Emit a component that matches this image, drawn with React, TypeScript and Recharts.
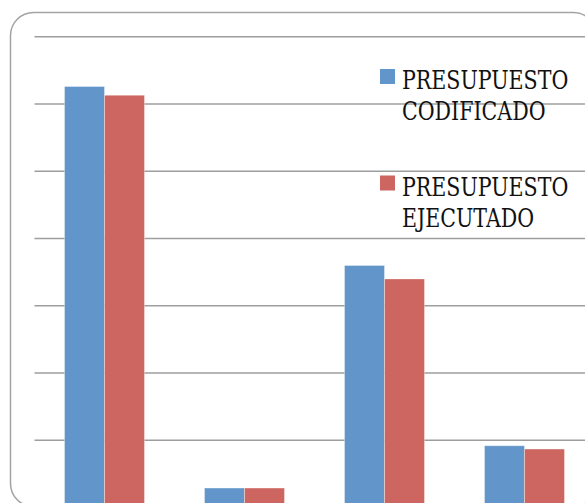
import React from "react";
import { BarChart, Bar, XAxis, YAxis, CartesianGrid } from "recharts";

const categories = ["1", "2", "3", "4"];
const codificado = [6.26, 0.29, 3.6, 0.92];
const ejecutado = [6.13, 0.29, 3.4, 0.87];
const yTicks = [0, 1, 2, 3, 4, 5, 6, 7];

const seriesNames = [
  ["PRESUPUESTO", "CODIFICADO"],
  ["PRESUPUESTO", "EJECUTADO"],
];
const seriesColors = ["#6296CA", "#CD6660"];

const data = categories.map((c, i) => ({
  name: c,
  codificado: codificado[i],
  ejecutado: ejecutado[i],
}));

export default function App() {
  return (
    <div
      style={{
        position: "absolute",
        left: 0,
        top: 0,
        width: 585,
        height: 503,
        overflow: "hidden",
        background: "#fff",
      }}
    >
      <svg
        width={620}
        height={530}
        style={{ position: "absolute", left: 0, top: 0 }}
      >
        <rect
          x={10.5}
          y={12.5}
          width={586}
          height={494}
          rx={23}
          ry={23}
          fill="#fff"
          stroke="#a3a3a3"
          strokeWidth={1.5}
        />
      </svg>
      <div style={{ position: "absolute", left: 0, top: 0 }}>
        <BarChart
          width={620}
          height={530}
          data={data}
          margin={{ top: 36.7, right: 25.5, bottom: 22.4, left: 34.5 }}
          barCategoryGap={30}
          barGap={0}
        >
          <CartesianGrid
            vertical={false}
            stroke="#9e9e9e"
            strokeWidth={1.5}
          />
          <XAxis dataKey="name" hide />
          <YAxis domain={[0, 7]} ticks={yTicks} hide />
          <Bar
            dataKey="codificado"
            fill={seriesColors[0]}
            stroke="rgba(255,255,255,0.35)"
            strokeWidth={1}
            isAnimationActive={false}
          />
          <Bar
            dataKey="ejecutado"
            fill={seriesColors[1]}
            stroke="rgba(255,255,255,0.35)"
            strokeWidth={1}
            isAnimationActive={false}
          />
        </BarChart>
      </div>
      <svg
        width={585}
        height={503}
        style={{ position: "absolute", left: 0, top: 0, pointerEvents: "none" }}
      >
        {seriesNames.map((lines, i) => {
          const base = 89 + i * 106.5;
          return (
            <g key={i}>
              <rect
                x={380}
                y={base - 20}
                width={15}
                height={15}
                fill={seriesColors[i]}
              />
              {lines.map((t, j) => (
                <text
                  key={j}
                  transform={`translate(402, ${base + j * 31}) scale(0.81, 1)`}
                  style={{ fontFamily: "DejaVu Serif", fontSize: 25.4 }}
                  fill="#111"
                >
                  {t}
                </text>
              ))}
            </g>
          );
        })}
      </svg>
    </div>
  );
}
